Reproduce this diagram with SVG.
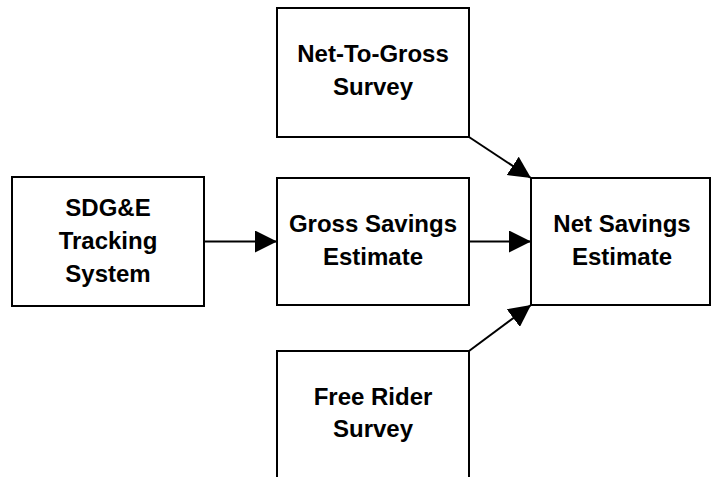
<svg xmlns="http://www.w3.org/2000/svg" width="711" height="477" viewBox="0 0 711 477">
<style>
.box{fill:#fff;stroke:#000;stroke-width:2}
.lbl{font-family:"Liberation Sans",Arial,sans-serif;font-weight:bold;font-size:24px;fill:#000;text-anchor:middle}
.edge{stroke:#000;stroke-width:2;fill:none}
</style>
<defs>
<marker id="ah" markerUnits="userSpaceOnUse" markerWidth="22" markerHeight="22" viewBox="0 0 20 20" refX="20" refY="10" orient="auto">
<polygon points="0,0 20,10 0,20" fill="#000"/>
</marker>
</defs>
<rect width="711" height="477" fill="#fff"/>
<g id="tracking">
<rect class="box" x="12" y="177" width="192" height="129"/>
<text class="lbl" x="108" y="216">SDG&amp;E</text>
<text class="lbl" x="108" y="249">Tracking</text>
<text class="lbl" x="108" y="282">System</text>
</g>
<g id="ntg">
<rect class="box" x="277" y="8" width="192" height="129"/>
<text class="lbl" x="373" y="62">Net-To-Gross</text>
<text class="lbl" x="373" y="95">Survey</text>
</g>
<g id="gross">
<rect class="box" x="277" y="178" width="192" height="127"/>
<text class="lbl" x="373" y="232">Gross Savings</text>
<text class="lbl" x="373" y="265">Estimate</text>
</g>
<g id="net">
<rect class="box" x="531" y="178" width="179" height="127"/>
<text class="lbl" x="622" y="232">Net Savings</text>
<text class="lbl" x="622" y="265">Estimate</text>
</g>
<g id="freerider">
<rect class="box" x="277" y="351" width="192" height="140"/>
<text class="lbl" x="373" y="405">Free Rider</text>
<text class="lbl" x="373" y="437">Survey</text>
</g>
<g id="connectors">
<line class="edge" x1="204" y1="241.5" x2="277" y2="241.5" marker-end="url(#ah)"/>
<line class="edge" x1="469" y1="241.5" x2="531" y2="241.5" marker-end="url(#ah)"/>
<line class="edge" x1="469" y1="137" x2="531" y2="178" marker-end="url(#ah)"/>
<line class="edge" x1="469" y1="351" x2="531" y2="305" marker-end="url(#ah)"/>
</g>
</svg>
